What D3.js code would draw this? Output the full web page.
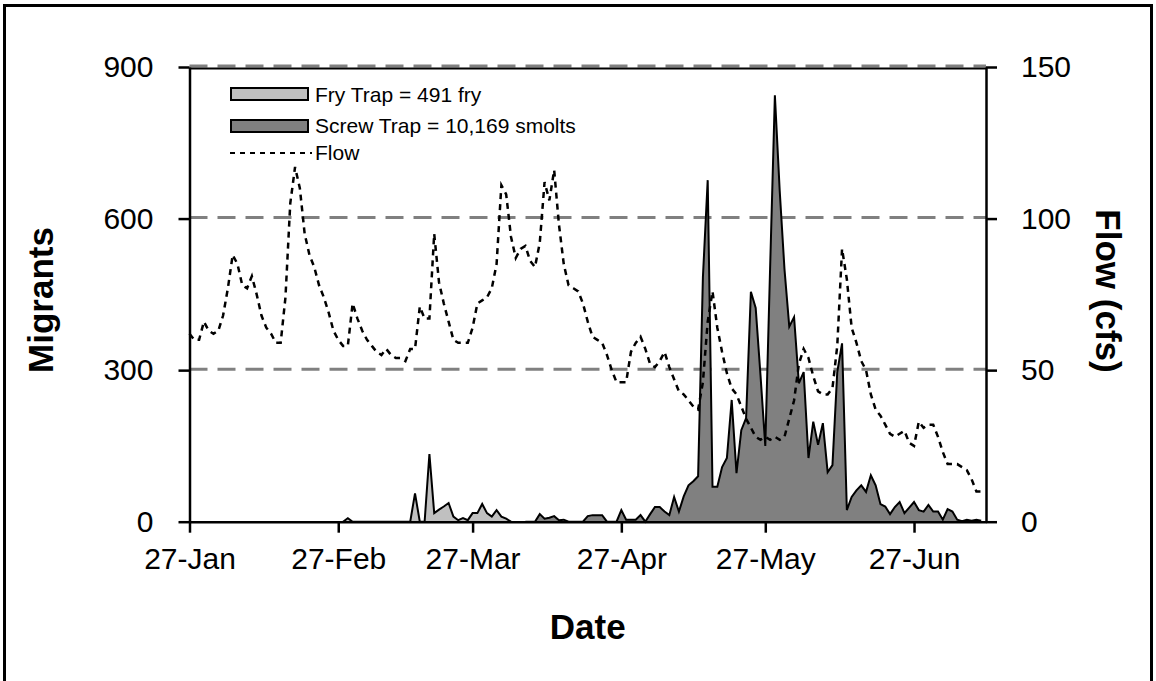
<!DOCTYPE html>
<html><head><meta charset="utf-8">
<script src="https://cdn.jsdelivr.net/npm/d3@7"></script>
<style>body{margin:0;background:#fff}svg{display:block}text{font-family:"Liberation Sans",Arial,sans-serif}</style>
</head><body>
<svg id="chart" width="1156" height="681"></svg>
<script>
// ---- data ----
const flowStart = "2003-01-27";
const flowValues = [62,60,60,66,63,62,63,68,77,88,85,78,77,81,75,68,64,62,59,59,
  74,105,117,110,95,88,84,78,74,69,63,60,58,58,72,67,63,60,58,56,
  55,57,55,54,54,53,57,57,71,67,67,95,79,72,66,60,59,59,59,64,
  72,73,74,77,85,111,108,94,87,90,91,86,84,92,112,106,116,98,85,78,
  77,76,72,66,61,60,59,55,50,46,46,46,56,59,61,57,52,51,53,56,
  51,47,43,42,40,38,37,46,66,76,64,56,49,44,42,38,34,31,28,27,
  28,27,28,27,28,34,40,52,57,54,48,43,42,42,44,58,90,80,64,59,
  53,50,42,37,35,32,29,28,29,30,26,25,33,31,32,32,28,23,19,19,
  19,18,17,14,10,10];
const fryStart = "2003-02-28";
const fryValues = [0,7,0,0,0,0,0,0,0,0,0,0,0,0,0,56,0,0,134,17,24,30,37,10,3,7,3,17,17,35,17,10,23,10,6,0];
const screwStart = "2003-04-07";
const screwValues = [0,0,0,15,6,8,11,3,4,0,0,0,0,11,13,13,13,0,0,0,
  23,4,4,4,13,0,15,29,29,20,13,49,20,50,72,80,90,484,676,69,
  69,108,126,241,96,181,205,455,423,290,150,500,844,656,500,386,405,274,296,126,
  198,152,195,98,112,296,353,23,49,62,72,59,92,72,35,30,15,29,39,17,
  28,39,23,20,33,20,20,4,25,20,4,1,4,2,4,2];
const xDomain = ["2003-01-27","2003-07-12"];
const xTickDates = ["2003-01-27","2003-02-27","2003-03-27","2003-04-27","2003-05-27","2003-06-27"];
const yLeftTicks = [0,300,600,900];
const yRightTicks = [0,50,100,150];
const legendLabels = ["Fry Trap = 491 fry","Screw Trap = 10,169 smolts","Flow"];

// ---- helpers ----
const parse = d3.utcParse("%Y-%m-%d");
const series = (start, vals) => vals.map((v,i)=>({date:d3.utcDay.offset(parse(start), i), v}));
const flow = series(flowStart, flowValues);
const fry = series(fryStart, fryValues);
const screw = series(screwStart, screwValues);

const L = 189.5, R = 986, T = 67, B = 521.7;
const x = d3.scaleUtc().domain(xDomain.map(parse)).range([L, R]);
const y = d3.scaleLinear().domain([0,900]).range([B, T]);
const y2 = d3.scaleLinear().domain([0,150]).range([B, T]);

const svg = d3.select("#chart");
const font = '"Liberation Sans", Arial, sans-serif';

// outer frame
svg.append("rect").attr("x",4.5).attr("y",5.5).attr("width",1147).attr("height",710)
  .attr("fill","none").attr("stroke","#000").attr("stroke-width",3);

// gridlines
svg.append("g").selectAll("line").data(yLeftTicks.filter(d=>d>0)).join("line")
  .attr("x1",L).attr("x2",R).attr("y1",d=>y(d)-1).attr("y2",d=>y(d)-1)
  .attr("stroke","#808080").attr("stroke-width",3).attr("stroke-dasharray","18,10");
// top border line
svg.append("line").attr("x1",L).attr("x2",R).attr("y1",T+1.5).attr("y2",T+1.5)
  .attr("stroke","#000").attr("stroke-width",2);

// areas
const area = (yy)=>d3.area().x(d=>x(d.date)).y0(B).y1(d=>yy(d.v));
const line = (yy)=>d3.line().x(d=>x(d.date)).y(d=>yy(d.v));
svg.append("path").datum(fry).attr("d",area(y)).attr("fill","#c0c0c0");
svg.append("path").datum(fry).attr("d",line(y)).attr("fill","none").attr("stroke","#000").attr("stroke-width",2);
svg.append("path").datum(screw).attr("d",area(y)).attr("fill","#808080");
svg.append("path").datum(screw).attr("d",line(y)).attr("fill","none").attr("stroke","#000").attr("stroke-width",2);

// flow line
svg.append("path").datum(flow).attr("d",line(y2)).attr("fill","none")
  .attr("stroke","#000").attr("stroke-width",2.5).attr("stroke-dasharray","6,5");

// axes
const fmtTick = d3.utcFormat("%-d-%b");
const gx = svg.append("g").attr("transform",`translate(0,${B})`)
  .call(d3.axisBottom(x).tickValues(xTickDates.map(parse)).tickFormat(fmtTick).tickSize(11).tickSizeOuter(0).tickPadding(15));
const gl = svg.append("g").attr("transform",`translate(${L},0)`)
  .call(d3.axisLeft(y).tickValues(yLeftTicks).tickSize(11).tickSizeOuter(0).tickPadding(25));
const gr = svg.append("g").attr("transform",`translate(${R},0)`)
  .call(d3.axisRight(y2).tickValues(yRightTicks).tickSize(11).tickSizeOuter(0).tickPadding(24));
[gx,gl,gr].forEach(g=>{
  g.select(".domain").attr("stroke","#000").attr("stroke-width",2.5);
  g.selectAll(".tick line").attr("stroke","#000").attr("stroke-width",2.5);
  g.selectAll(".tick text").attr("font-family",font).attr("font-size",30).attr("fill","#000");
});
gx.selectAll(".tick text").attr("dy","0.71em");

// axis titles
svg.append("text").attr("transform","translate(40,300) rotate(-90)").attr("text-anchor","middle")
  .attr("dominant-baseline","central").attr("font-family",font).attr("font-weight","bold").attr("font-size",35).text("Migrants");
svg.append("text").attr("transform","translate(1108,291) rotate(90)").attr("text-anchor","middle")
  .attr("dominant-baseline","central").attr("font-family",font).attr("font-weight","bold").attr("font-size",35).text("Flow (cfs)");
svg.append("text").attr("x",(L+R)/2).attr("y",639).attr("text-anchor","middle")
  .attr("font-family",font).attr("font-weight","bold").attr("font-size",35).text("Date");

// legend
const lg = svg.append("g");
lg.append("rect").attr("x",231).attr("y",88).attr("width",77).attr("height",12).attr("fill","#c0c0c0").attr("stroke","#000").attr("stroke-width",2);
lg.append("rect").attr("x",231).attr("y",120).attr("width",77).attr("height",12).attr("fill","#808080").attr("stroke","#000").attr("stroke-width",2);
lg.append("line").attr("x1",230).attr("x2",312).attr("y1",153).attr("y2",153).attr("stroke","#000").attr("stroke-width",2).attr("stroke-dasharray","5,5");
[102,133,160].forEach((yy,i)=>{
  lg.append("text").attr("x",315).attr("y",yy).attr("font-family",font).attr("font-size",21).text(legendLabels[i]);
});
</script>
</body></html>
